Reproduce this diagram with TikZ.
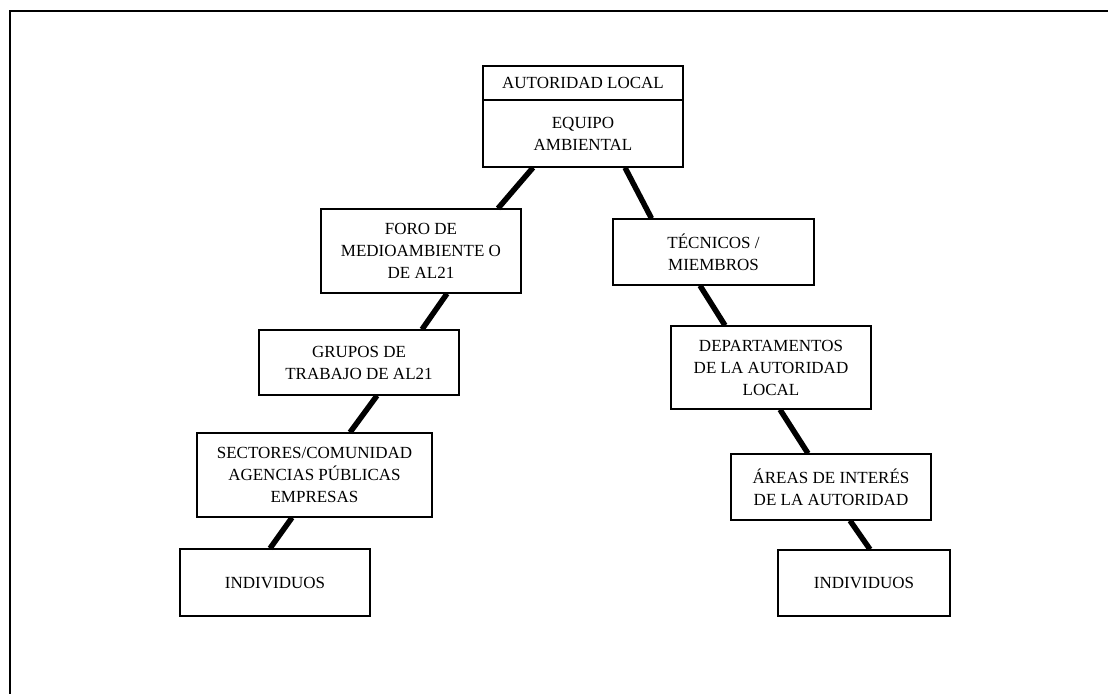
\documentclass[tikz,border=0pt]{standalone}
\usepackage{fontspec}
\setmainfont{Liberation Serif}
\usepackage{tikz}

\tikzset{
  caja/.style = {draw, line width=1.2pt, fill=white, align=center,
                 inner sep=0pt, font=\fontsize{17}{22}\selectfont},
  enlace/.style = {line width=5.5pt, line cap=butt},
}

\begin{document}
\begin{tikzpicture}[x=1pt, y=-1pt]
      \useasboundingbox (0,0) rectangle (1108,694);
      \draw[line width=2pt] (1108,10.5) -- (9.5,10.5) -- (9.5,694);

      % centro
      \node[caja, minimum width=200pt, minimum height=34pt] (aut) at (583,83) {AUTORIDAD LOCAL};
      \node[caja, minimum width=200pt, minimum height=67pt] (equ) at (583,133.5) {EQUIPO\\AMBIENTAL};

      % rama izquierda
      \node[caja, minimum width=200pt, minimum height=84pt] (foro) at (421,251) {FORO DE\\MEDIOAMBIENTE O\\DE AL21};
      \node[caja, minimum width=200pt, minimum height=65pt] (gru) at (359,362.5) {GRUPOS DE\\TRABAJO DE AL21};
      \node[caja, minimum width=235pt, minimum height=84pt] (sec) at (314.5,475) {SECTORES/COMUNIDAD\\AGENCIAS PÚBLICAS\\EMPRESAS};
      \node[caja, minimum width=190pt, minimum height=67pt] (ind1) at (275,582.5) {INDIVIDUOS};

      % rama derecha
      \node[caja, minimum width=201pt, minimum height=66pt] (tec) at (713.5,252) {TÉCNICOS /\\MIEMBROS};
      \node[caja, minimum width=200pt, minimum height=83pt] (dep) at (771,367.5) {DEPARTAMENTOS\\DE LA AUTORIDAD\\LOCAL};
      \node[caja, minimum width=200pt, minimum height=66pt] (are) at (831,487) {ÁREAS DE INTERÉS\\DE LA AUTORIDAD};
      \node[caja, minimum width=172pt, minimum height=66pt] (ind2) at (864,583) {INDIVIDUOS};

      \draw[enlace] ([xshift=-50pt]equ.south) -- ([xshift=77pt]foro.north);
      \draw[enlace] ([xshift=26pt]foro.south) -- ([xshift=63pt]gru.north);
      \draw[enlace] ([xshift=18pt]gru.south) -- ([xshift=35.5pt]sec.north);
      \draw[enlace] ([xshift=-22.5pt]sec.south) -- ([xshift=-5pt]ind1.north);

      \draw[enlace] ([xshift=42pt]equ.south) -- ([xshift=-62pt]tec.north);
      \draw[enlace] ([xshift=-13.5pt]tec.south) -- ([xshift=-46pt]dep.north);
      \draw[enlace] ([xshift=9pt]dep.south) -- ([xshift=-23pt]are.north);
      \draw[enlace] ([xshift=19pt]are.south) -- ([xshift=6pt]ind2.north);
\end{tikzpicture}
\end{document}
